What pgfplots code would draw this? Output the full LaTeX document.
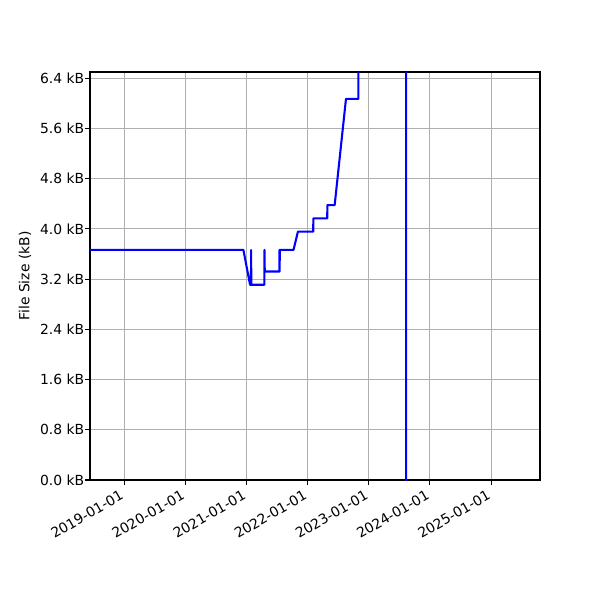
\documentclass[border=0pt]{standalone}
\usepackage{pgfplots}
\pgfplotsset{compat=1.18}
\usepackage{fontspec}
\setmainfont{DejaVu Sans}
\definecolor{gridgray}{HTML}{B0B0B0}
\begin{document}
\begin{tikzpicture}
\useasboundingbox (-64.8pt,-86.4pt) rectangle (367.2pt,345.6pt);
\begin{axis}[
  at={(0,0)}, anchor=south west,
  scale only axis, width=324pt, height=293.76pt,
  xmin=2018.443, xmax=2025.80, ymin=0, ymax=6.5,
  xtick={2019,2020,2021,2022,2023,2024,2025},
  xticklabels={2019-01-01,2020-01-01,2021-01-01,2022-01-01,2023-01-01,2024-01-01,2025-01-01},
  ytick={0,0.8,1.6,2.4,3.2,4.0,4.8,5.6,6.4},
  yticklabels={0.0 kB,0.8 kB,1.6 kB,2.4 kB,3.2 kB,4.0 kB,4.8 kB,5.6 kB,6.4 kB},
  tick label style={font=\fontsize{10pt}{12pt}\selectfont},
  xticklabel style={rotate=30, anchor=north east, inner sep=1pt, xshift=-3.5pt},
  yticklabel style={inner sep=1pt, xshift=0.5pt},
  tick align=outside, tick pos=left,
  major tick length=3.5pt,
  every tick/.style={black, line width=0.8pt},
  axis line style={line width=0.8pt},
  grid=major,
  major grid style={gridgray, line width=0.8pt},
  ylabel={File Size (kB)},
  ylabel style={at={(axis description cs:-0.1444,0.5)}, anchor=center, font=\fontsize{10pt}{12pt}\selectfont},
  clip=true,
]
\addplot[blue, line width=1.5pt, line join=round] coordinates {
(2018.0,3.665) (2020.951,3.665) (2021.060,3.110) (2021.075,3.110) (2021.077,3.665) (2021.080,3.110)
(2021.293,3.110) (2021.296,3.665) (2021.300,3.322) (2021.538,3.322) (2021.540,3.665) (2021.543,3.322)
(2021.546,3.665) (2021.770,3.665) (2021.842,3.956) (2022.093,3.956) (2022.094,4.168) (2022.322,4.168)
(2022.323,4.380) (2022.443,4.380) (2022.628,6.072) (2022.831,6.072) (2022.832,50) (2023.610,50) (2023.612,-1)
};
\end{axis}
\end{tikzpicture}
\end{document}
